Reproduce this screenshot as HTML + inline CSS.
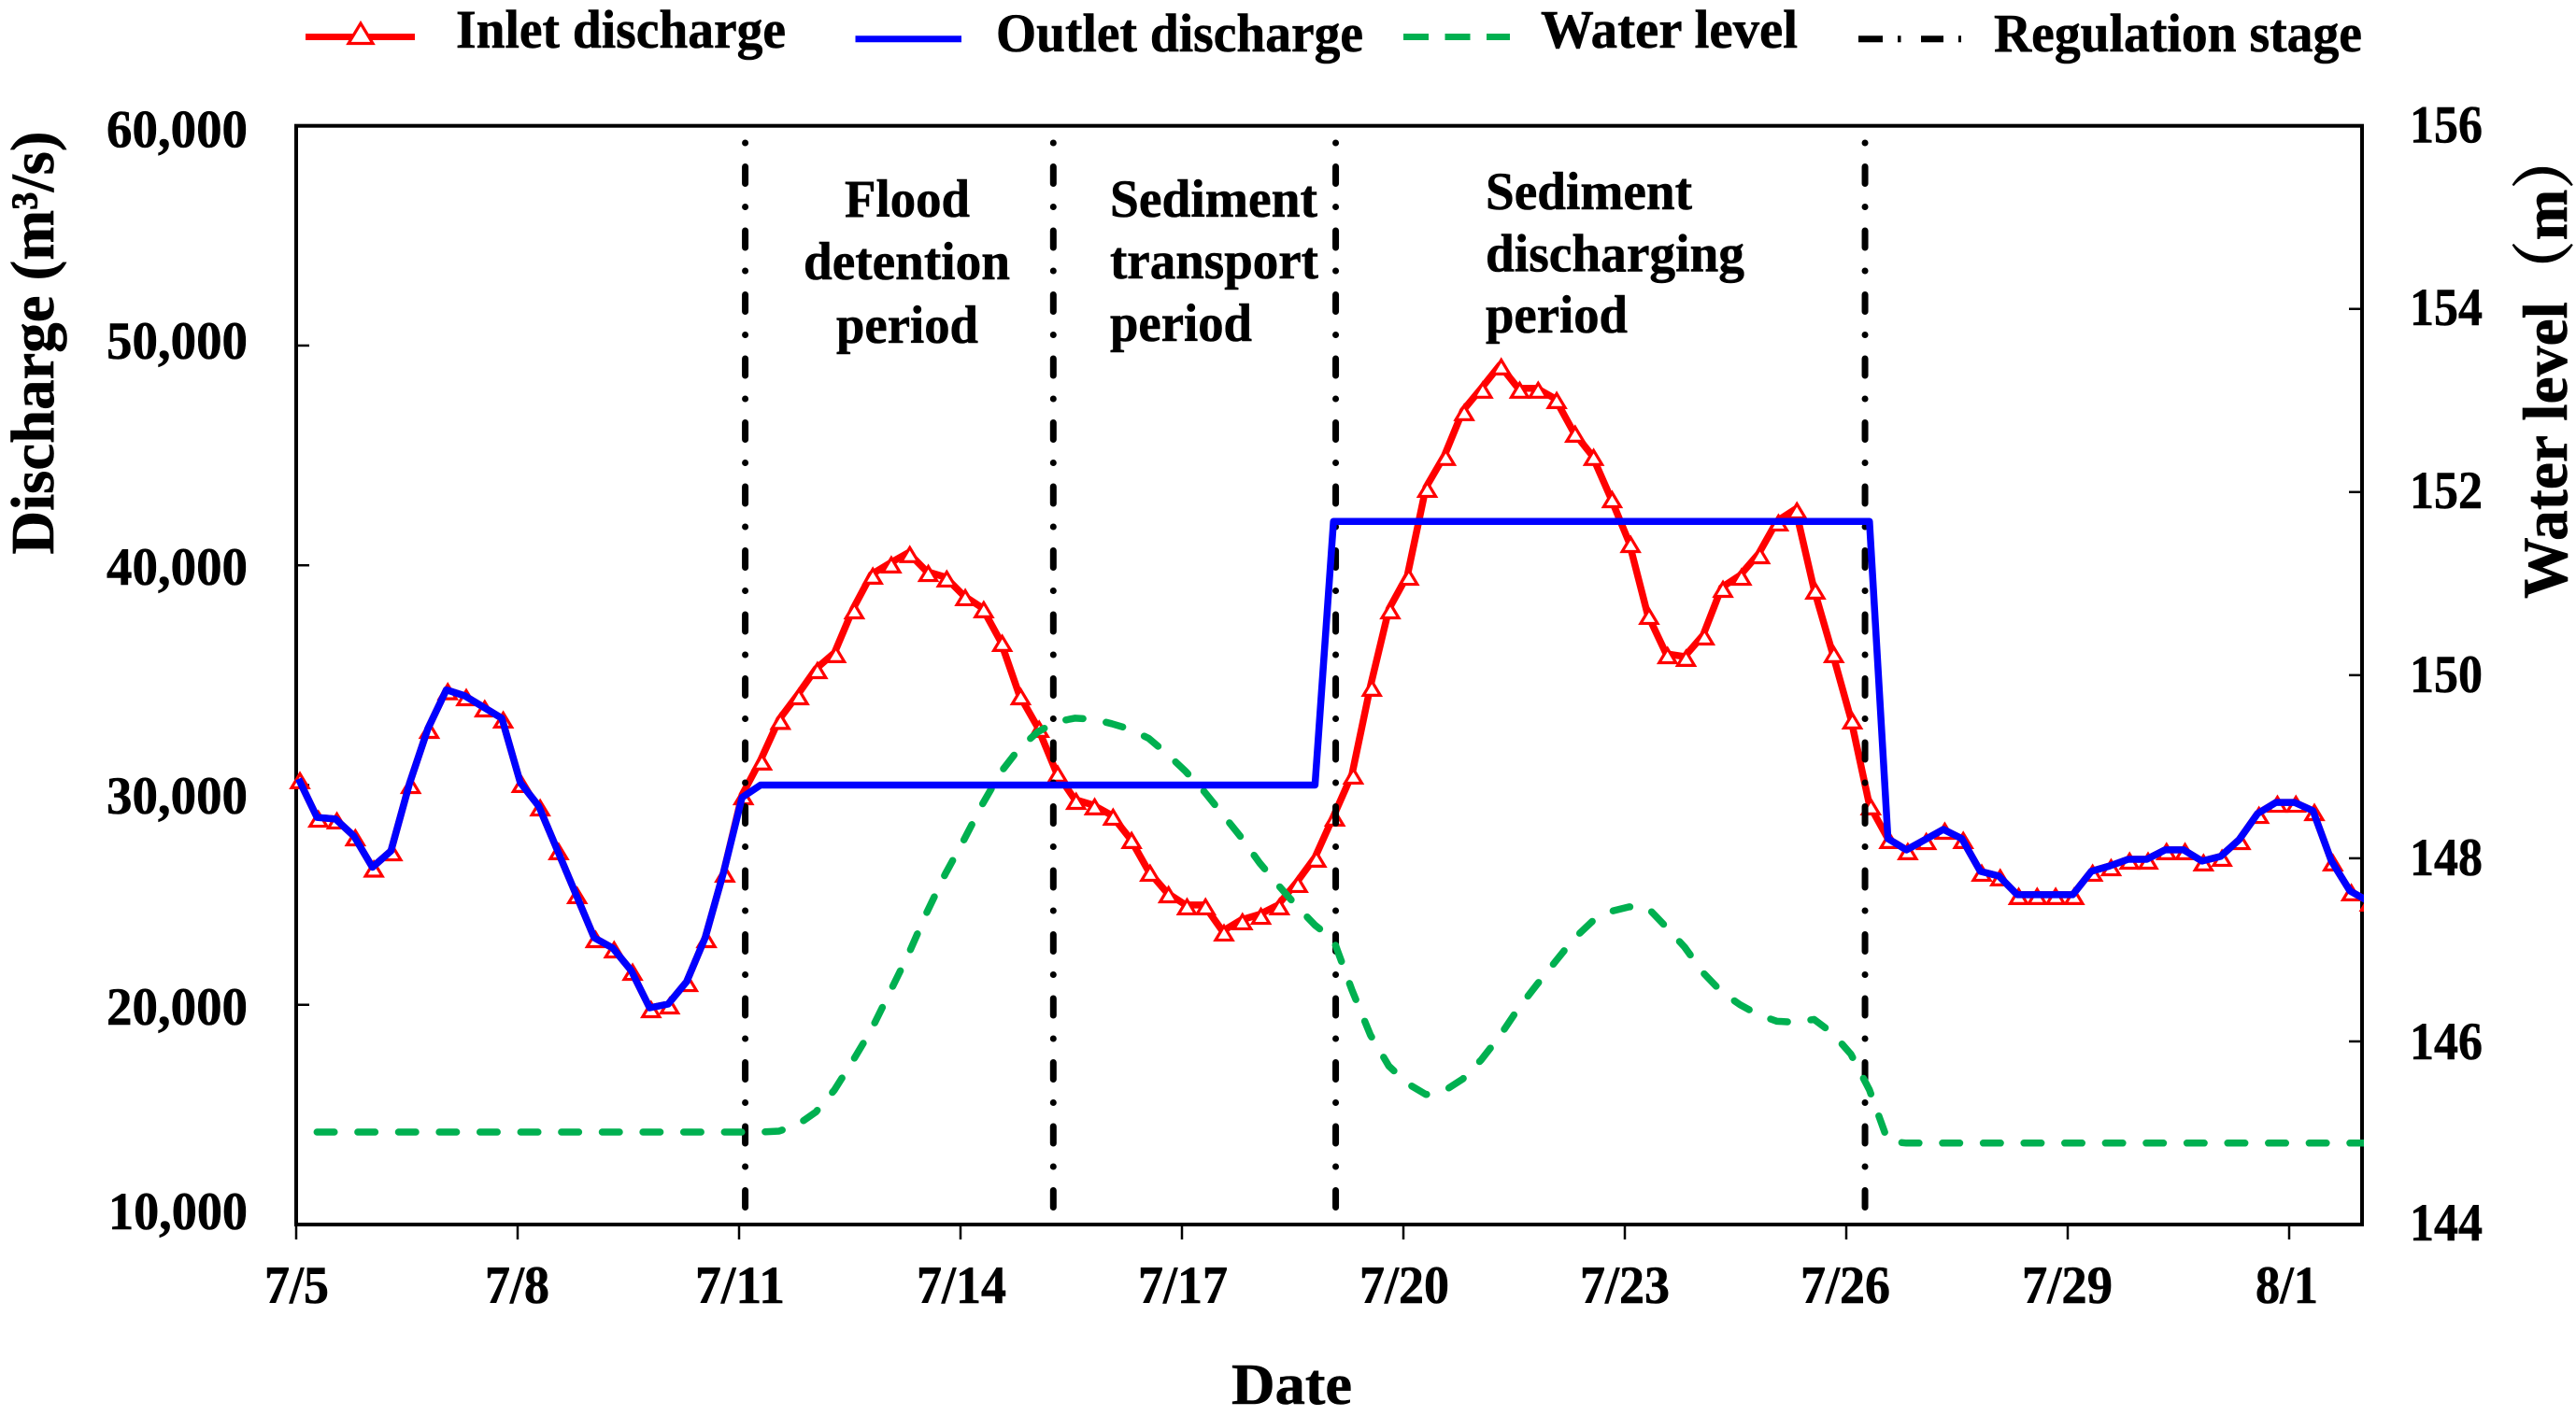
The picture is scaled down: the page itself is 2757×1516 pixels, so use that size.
<!DOCTYPE html>
<html lang="en">
<head>
<meta charset="utf-8">
<title>Discharge and water level during regulation stages</title>
<style>
html,body{margin:0;padding:0;background:#fff;}
svg{display:block;}
text{font-family:"Liberation Serif","Noto Serif CJK SC",serif;font-weight:bold;fill:#000;stroke:#000;stroke-width:0.6;}
</style>
</head>
<body>
<svg id="chart" xmlns="http://www.w3.org/2000/svg" width="2757" height="1516" viewBox="0 0 2757 1516">
<rect x="0" y="0" width="2757" height="1516" fill="#fff"/>
<defs><clipPath id="plot-clip"><rect x="300" y="120" width="2230" height="1200"/></clipPath></defs>
<rect x="317" y="134.7" width="2211" height="1176.3" fill="none" stroke="#000" stroke-width="4"/>
<g id="ticks"></g>
<g id="series" clip-path="url(#plot-clip)"></g>

<g>
  <g>
    <line x1="327" y1="39.5" x2="444" y2="39.5" stroke="#f00" stroke-width="7"/>
    <polygon points="386,25 373,46.5 399,46.5" fill="#fff" stroke="#f00" stroke-width="3.2"/>
    <text x="488" y="51" font-size="58" textLength="353" lengthAdjust="spacingAndGlyphs">Inlet discharge</text>
  </g>
  <g>
    <line x1="915.5" y1="41.7" x2="1029" y2="41.7" stroke="#00f" stroke-width="7"/>
    <text x="1066" y="55" font-size="58" textLength="393" lengthAdjust="spacingAndGlyphs">Outlet discharge</text>
  </g>
  <g>
    <line x1="1502" y1="39.5" x2="1616" y2="39.5" stroke="#00b050" stroke-width="7" stroke-dasharray="27 17.5"/>
    <text x="1649" y="51" font-size="58" textLength="275" lengthAdjust="spacingAndGlyphs">Water level</text>
  </g>
  <g>
    <line x1="1989" y1="41.7" x2="2103" y2="41.7" stroke="#000" stroke-width="7" stroke-dasharray="26 16 3.5 21.5 24 16 3"/>
    <text x="2134" y="55" font-size="58" textLength="394" lengthAdjust="spacingAndGlyphs">Regulation stage</text>
  </g>
</g>

<g font-size="57">
  <text x="114" y="157.5" textLength="151" lengthAdjust="spacingAndGlyphs">60,000</text>
  <text x="114" y="384" textLength="151" lengthAdjust="spacingAndGlyphs">50,000</text>
  <text x="114" y="626" textLength="151" lengthAdjust="spacingAndGlyphs">40,000</text>
  <text x="114" y="871" textLength="151" lengthAdjust="spacingAndGlyphs">30,000</text>
  <text x="114" y="1097" textLength="151" lengthAdjust="spacingAndGlyphs">20,000</text>
  <text x="116" y="1316" textLength="149" lengthAdjust="spacingAndGlyphs">10,000</text>
</g>
<g font-size="57">
  <text x="2579" y="152.7" textLength="78" lengthAdjust="spacingAndGlyphs">156</text>
  <text x="2579" y="348" textLength="78" lengthAdjust="spacingAndGlyphs">154</text>
  <text x="2579" y="544" textLength="78" lengthAdjust="spacingAndGlyphs">152</text>
  <text x="2579" y="741" textLength="78" lengthAdjust="spacingAndGlyphs">150</text>
  <text x="2579" y="937" textLength="78" lengthAdjust="spacingAndGlyphs">148</text>
  <text x="2579" y="1134" textLength="78" lengthAdjust="spacingAndGlyphs">146</text>
  <text x="2579" y="1328" textLength="78" lengthAdjust="spacingAndGlyphs">144</text>
</g>
<g font-size="57">
  <text x="283" y="1395" textLength="69" lengthAdjust="spacingAndGlyphs">7/5</text>
  <text x="519" y="1395" textLength="69" lengthAdjust="spacingAndGlyphs">7/8</text>
  <text x="744" y="1395" textLength="96" lengthAdjust="spacingAndGlyphs">7/11</text>
  <text x="981" y="1395" textLength="96" lengthAdjust="spacingAndGlyphs">7/14</text>
  <text x="1218" y="1395" textLength="96" lengthAdjust="spacingAndGlyphs">7/17</text>
  <text x="1455" y="1395" textLength="96" lengthAdjust="spacingAndGlyphs">7/20</text>
  <text x="1691" y="1395" textLength="96" lengthAdjust="spacingAndGlyphs">7/23</text>
  <text x="1927" y="1395" textLength="96" lengthAdjust="spacingAndGlyphs">7/26</text>
  <text x="2164" y="1395" textLength="97" lengthAdjust="spacingAndGlyphs">7/29</text>
  <text x="2414" y="1395" textLength="67" lengthAdjust="spacingAndGlyphs">8/1</text>
</g>

<text x="1318" y="1503" font-size="62" textLength="129" lengthAdjust="spacingAndGlyphs">Date</text>
<text transform="translate(57,593.6) rotate(-90)" x="0" y="0" font-size="66" textLength="453" lengthAdjust="spacingAndGlyphs">Discharge (m³/s)</text>
<text transform="translate(2747,641) rotate(-90)" x="0" y="0" font-size="68" textLength="504" lengthAdjust="spacingAndGlyphs">Water level（m）</text>

<g font-size="57">
  <g>
    <text x="904" y="232" textLength="134" lengthAdjust="spacingAndGlyphs">Flood</text>
    <text x="860" y="299" textLength="221" lengthAdjust="spacingAndGlyphs">detention</text>
    <text x="895" y="367" textLength="152" lengthAdjust="spacingAndGlyphs">period</text>
  </g>
  <g>
    <text x="1188" y="232" textLength="222" lengthAdjust="spacingAndGlyphs">Sediment</text>
    <text x="1188" y="298" textLength="223" lengthAdjust="spacingAndGlyphs">transport</text>
    <text x="1188" y="365" textLength="152" lengthAdjust="spacingAndGlyphs">period</text>
  </g>
  <g>
    <text x="1590" y="224" textLength="221" lengthAdjust="spacingAndGlyphs">Sediment</text>
    <text x="1590" y="290.7" textLength="277" lengthAdjust="spacingAndGlyphs">discharging</text>
    <text x="1590" y="356" textLength="152" lengthAdjust="spacingAndGlyphs">period</text>
  </g>
</g>
</svg>

<script>
// Data: one sample every 6 hours from 7/5 00:00.
const inletDischarge = [30280,28530,28450,27680,26260,27000,30060,32570,34330,34060,33550,33040,30110,29040,27050,25050,23050,22580,21560,19860,20030,21050,23050,26030,29550,31130,32980,34100,35290,36020,38010,39590,40100,40570,39710,39460,38610,38060,36530,34100,32620,30580,29340,29090,28620,27560,26070,25090,24540,24540,23350,23860,24110,24540,25560,26710,28580,30490,34490,38010,39540,43540,44990,47030,48050,49110,48050,48050,47580,46050,44990,43070,41030,37760,35970,35850,36820,38990,39540,40520,42010,42560,38910,36020,33000,29090,27560,27050,27510,27980,27560,26070,25860,25010,25010,25010,25010,26070,26320,26620,26620,27050,27050,26540,26750,27510,28700,29210,29210,28830,26540,25180,24710];
const outletDischarge = [30280,28530,28450,27680,26260,27000,30060,32570,34330,34060,33550,33040,30110,29040,27050,25050,23050,22580,21560,19860,20030,21050,23050,26030,29440,30000,30000,30000,30000,30000,30000,30000,30000,30000,30000,30000,30000,30000,30000,30000,30000,30000,30000,30000,30000,30000,30000,30000,30000,30000,30000,30000,30000,30000,30000,30000,42000,42000,42000,42000,42000,42000,42000,42000,42000,42000,42000,42000,42000,42000,42000,42000,42000,42000,42000,42000,42000,42000,42000,42000,42000,42000,42000,42000,42000,42000,27560,27050,27510,27980,27560,26070,25860,25010,25010,25010,25010,26070,26320,26620,26620,27050,27050,26540,26750,27510,28700,29210,29210,28830,26540,25180,24710];
const waterLevel = [null,145.01,145.01,145.01,145.01,145.01,145.01,145.01,145.01,145.01,145.01,145.01,145.01,145.01,145.01,145.01,145.01,145.01,145.01,145.01,145.01,145.01,145.01,145.01,145.01,145.01,145.02,145.09,145.23,145.47,145.79,146.13,146.54,146.95,147.41,147.83,148.20,148.59,148.94,149.20,149.38,149.49,149.53,149.52,149.47,149.41,149.31,149.14,148.95,148.73,148.48,148.23,147.95,147.71,147.48,147.27,147.11,146.56,146.07,145.73,145.54,145.42,145.46,145.59,145.80,146.06,146.36,146.62,146.87,147.12,147.31,147.42,147.47,147.46,147.25,147.03,146.75,146.54,146.40,146.29,146.22,146.21,146.24,146.09,145.86,145.47,144.91,144.89,144.89,144.89,144.89,144.89,144.89,144.89,144.89,144.89,144.89,144.89,144.89,144.89,144.89,144.89,144.89,144.89,144.89,144.89,144.89,144.89,144.89,144.89,144.89,144.89,144.89];
const regulationStages = [24.17,40.84,56.12,84.76];
const dischargeTicks = [20000,30000,40000,50000];
const levelTicks = [146,148,150,152,154];
const dayTicks = [0,3,6,9,12,15,18,21,24,27];

// Axis functions
function yDischarge(v){ return 1311 - (v - 10000) / 50000 * 1176.3; }
function yLevel(v){ return 1311 - (v - 144) / 12 * 1176.3; }
function xSample(i){ return 319.5 + 19.78 * i; }
function xDay(d){ return 317 + 79 * d; }

const NS = 'http://www.w3.org/2000/svg';
const tickLayer = document.getElementById('ticks');
const seriesLayer = document.getElementById('series');

function tickLine(x1, y1, x2, y2){
  const el = document.createElementNS(NS, 'line');
  el.setAttribute('x1', x1);
  el.setAttribute('y1', y1);
  el.setAttribute('x2', x2);
  el.setAttribute('y2', y2);
  el.setAttribute('stroke', '#000');
  el.setAttribute('stroke-width', '2.5');
  tickLayer.appendChild(el);
  return el;
}
dischargeTicks.forEach(function(v){
  const el = tickLine(317, yDischarge(v), 331, yDischarge(v));
  
  
});
levelTicks.forEach(function(v){
  const el = tickLine(2514, yLevel(v), 2528, yLevel(v));
  
  
});
dayTicks.forEach(function(d){
  const el = tickLine(xDay(d), 1311, xDay(d), 1327);
  
  
});

function pointsOf(values, yFn){
  const parts = [];
  values.forEach(function(v, i){
    if (v !== null) parts.push(xSample(i).toFixed(1) + ',' + yFn(v).toFixed(1));
  });
  return parts.join(' ');
}
function polyline(values, yFn, color){
  const el = document.createElementNS(NS, 'polyline');
  el.setAttribute('points', pointsOf(values, yFn));
  el.setAttribute('fill', 'none');
  el.setAttribute('stroke', color);
  el.setAttribute('stroke-width', '7.5');
  el.setAttribute('stroke-linejoin', 'round');
  return el;
}

// Inlet line and triangle markers
const inletLine = polyline(inletDischarge, yDischarge, '#f00');


seriesLayer.appendChild(inletLine);

const markerGroup = document.createElementNS(NS, 'g');


seriesLayer.appendChild(markerGroup);
inletDischarge.forEach(function(v, i){
  const cx = xSample(i) + 1.5;
  const cy = yDischarge(v);
  const tri = document.createElementNS(NS, 'polygon');
  tri.setAttribute('points', cx + ',' + (cy - 5.5) + ' ' + (cx - 9) + ',' + (cy + 9.5) + ' ' + (cx + 9) + ',' + (cy + 9.5));
  tri.setAttribute('fill', '#fff');
  tri.setAttribute('stroke', '#f00');
  tri.setAttribute('stroke-width', '3.2');
  
  
  markerGroup.appendChild(tri);
});

// Regulation stage boundaries
regulationStages.forEach(function(s){
  const el = document.createElementNS(NS, 'line');
  el.setAttribute('x1', xSample(s));
  el.setAttribute('x2', xSample(s));
  el.setAttribute('y1', 153);
  el.setAttribute('y2', 1311);
  el.setAttribute('stroke', '#000');
  el.setAttribute('stroke-width', '7');
  el.setAttribute('stroke-linecap', 'round');
  el.setAttribute('stroke-dasharray', '0 25.5 18 25');
  
  
  seriesLayer.appendChild(el);
});

// Water level (right axis)
const waterLine = polyline(waterLevel, yLevel, '#00b050');
waterLine.setAttribute('stroke-linecap', 'round');
waterLine.setAttribute('stroke-dasharray', '18.5 25.1');


seriesLayer.appendChild(waterLine);

// Outlet line on top
const outletLine = polyline(outletDischarge, yDischarge, '#00f');


seriesLayer.appendChild(outletLine);
</script>
</body>
</html>
